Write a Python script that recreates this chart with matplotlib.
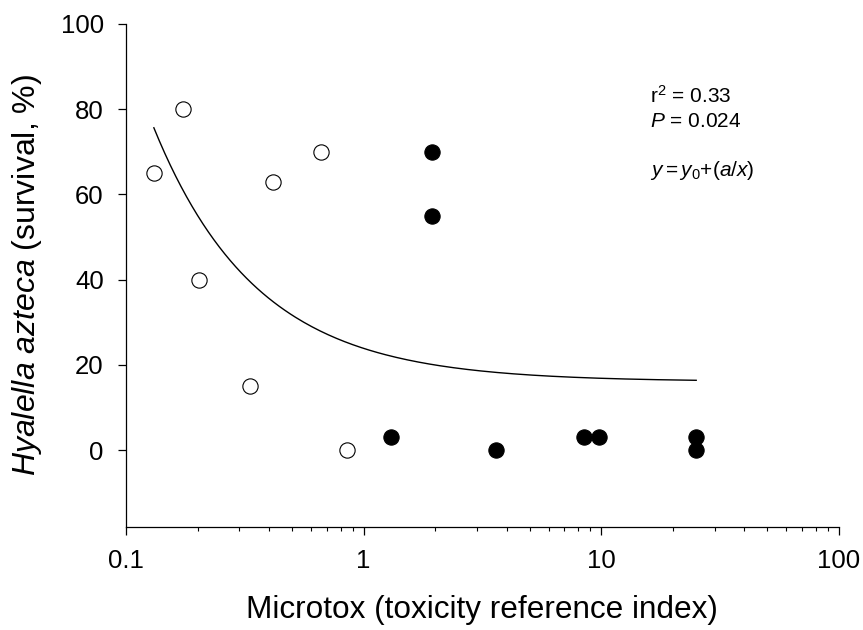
import numpy as np
import matplotlib
matplotlib.use("Agg")
import matplotlib.pyplot as plt
from matplotlib.ticker import NullFormatter, LogLocator

plt.rcParams['font.family'] = ['Liberation Sans', 'DejaVu Sans']
plt.rcParams['mathtext.fontset'] = 'custom'
plt.rcParams['mathtext.rm'] = 'Liberation Sans'
plt.rcParams['mathtext.it'] = 'Liberation Sans:italic'

# open circles (reference sites)
open_x = [0.131, 0.174, 0.203, 0.333, 0.416, 0.662, 0.85]
open_y = [65, 80, 40, 15, 63, 70, 0]
# filled circles
fill_x = [1.94, 1.94, 1.31, 3.61, 8.5, 9.8, 25.1, 25.1]
fill_y = [70, 55, 3, 0, 3, 3, 3, 0]

# fitted curve y = y0 + a/x
y0 = 16.1
a = 7.8
fit_start, fit_end = 0.131, 25.1

W, H = 863, 630
fig = plt.figure(figsize=(W / 100, H / 100), dpi=100)
ax = fig.add_axes([0.146, 0.1635, 0.826, 0.7985])

xf = np.logspace(np.log10(fit_start), np.log10(fit_end), 200)
ax.plot(xf, y0 + a / xf, color='black', lw=1.0)

ax.plot(open_x, open_y, 'o', ms=11, mfc='white', mec='black', mew=0.8)
ax.plot(fill_x, fill_y, 'o', ms=11, mfc='black', mec='black', mew=0.8)

ax.set_xscale('log')
ax.set_xlim(0.1, 100)
ax.set_ylim(-18, 100)
ax.set_xticks([0.1, 1, 10, 100])
ax.set_xticklabels(['0.1', '1', '10', '100'])
ax.xaxis.set_minor_locator(LogLocator(base=10, subs=np.arange(2, 10)))
ax.xaxis.set_minor_formatter(NullFormatter())
ax.set_yticks([0, 20, 40, 60, 80, 100])

for s in ['top', 'right']:
    ax.spines[s].set_visible(False)
for s in ['left', 'bottom']:
    ax.spines[s].set_linewidth(0.9)

ax.tick_params(axis='both', which='major', direction='out', length=6, width=0.9,
               labelsize=18.5, pad=10)
ax.tick_params(axis='x', which='minor', direction='out', length=3, width=0.8)

ax.set_xlabel('Microtox (toxicity reference index)', fontsize=22.7, labelpad=16)
ax.set_ylabel(r'$\mathit{Hyalella\ azteca}$ (survival, %)', fontsize=23, labelpad=12)

# annotation, placed in pixel positions
fig.text(650 / W, 1 - 103 / H, r'r$^2$ = 0.33', fontsize=15, va='baseline')
fig.text(650 / W, 1 - 127 / H, r'$\mathit{P}$ = 0.024', fontsize=15, va='baseline')
fig.text(650 / W, 1 - 176 / H, r'$\mathit{y}{=}\mathit{y}_{\mathit{0}}{+}\mathit{(a/x)}$',
         fontsize=15, va='baseline')

fig.savefig('out.png', dpi=100)
